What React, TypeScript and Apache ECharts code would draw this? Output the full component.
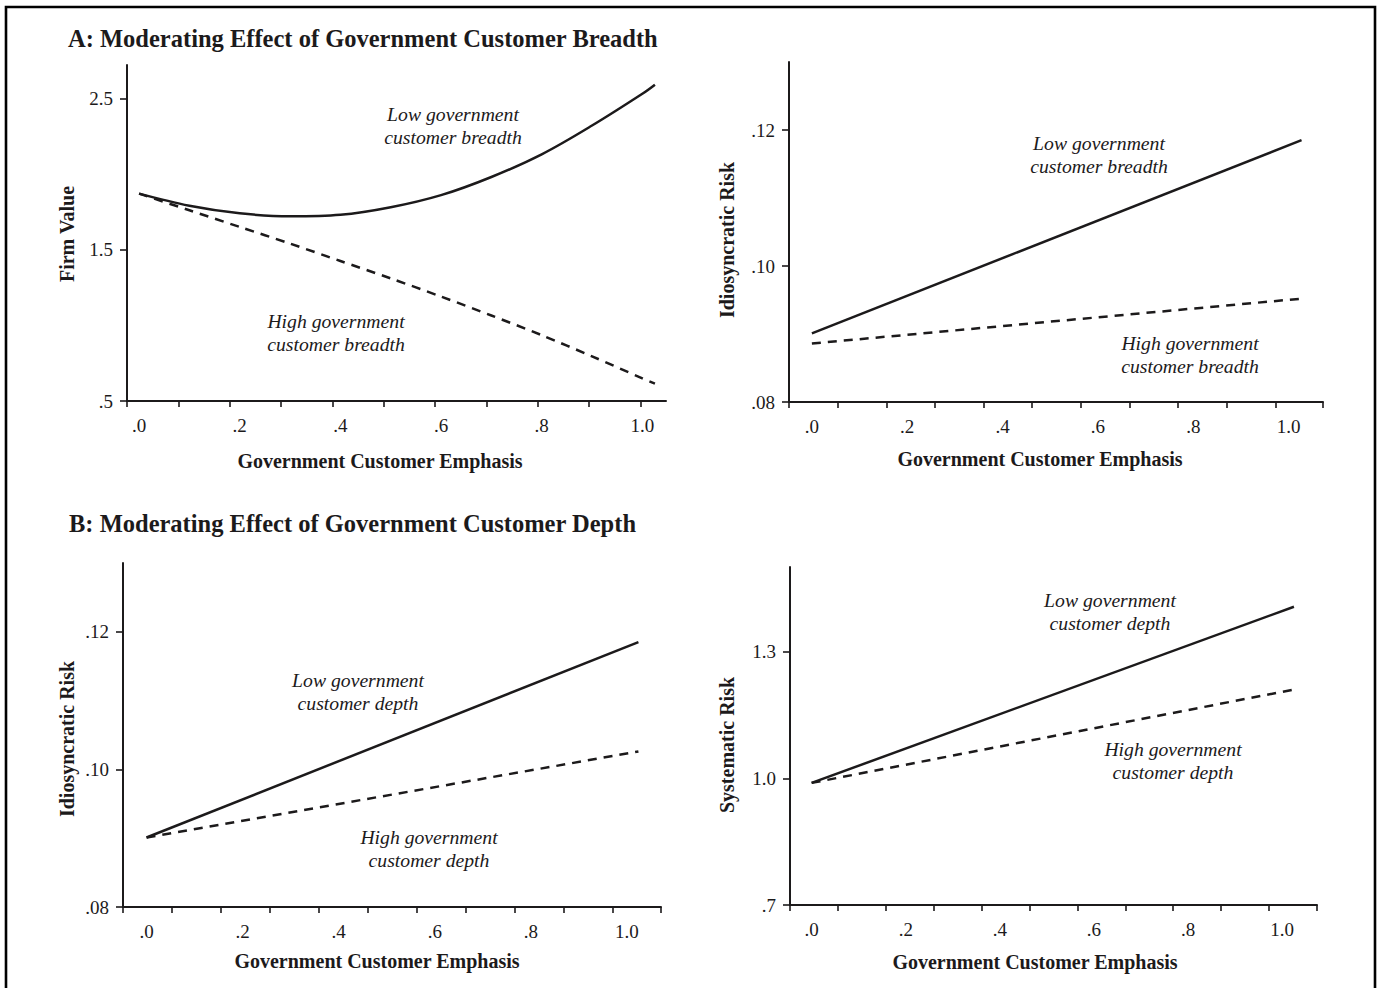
import React, { useEffect, useRef } from "react";
import * as echarts from "echarts";

// ---------- data ----------
const xLabelValues = [0, 0.2, 0.4, 0.6, 0.8, 1.0];
const xLabelTexts = [".0", ".2", ".4", ".6", ".8", "1.0"];

// Panel A: Firm Value (breadth)
const aX = [0, 0.1, 0.2, 0.3, 0.4, 0.5, 0.6, 0.7, 0.8, 0.9, 1.0, 1.025];
const aLow = [1.87, 1.79, 1.74, 1.72, 1.73, 1.78, 1.86, 1.98, 2.13, 2.32, 2.53, 2.59];
const aHigh = [1.87, 1.76, 1.65, 1.54, 1.425, 1.31, 1.19, 1.065, 0.935, 0.795, 0.65, 0.615];
const aYLabelValues = [0.5, 1.5, 2.5];
const aYLabelTexts = [".5", "1.5", "2.5"];
const aXTicks = [-0.024, 0.078, 0.18, 0.282, 0.384, 0.486, 0.588, 0.69, 0.792, 0.894, 0.996];

// Panel A2: Idiosyncratic Risk (breadth)
const a2X = [0, 1.027];
const a2Low = [0.0901, 0.1185];
const a2High = [0.0886, 0.0952];
const riskYLabelValues = [0.08, 0.1, 0.12];
const riskYLabelTexts = [".08", ".10", ".12"];
const a2XTicks = [-0.048, 0.054, 0.156, 0.258, 0.36, 0.462, 0.564, 0.666, 0.768, 0.87, 0.972, 1.072];

// Panel B1: Idiosyncratic Risk (depth)
const b1X = [0, 1.024];
const b1Low = [0.0901, 0.1185];
const b1High = [0.0901, 0.1026];
const b1XTicks = [-0.049, 0.053, 0.155, 0.257, 0.359, 0.461, 0.563, 0.665, 0.767, 0.869, 0.971, 1.071];

// Panel B2: Systematic Risk (depth)
const b2X = [0, 1.025];
const b2Low = [0.989, 1.406];
const b2High = [0.989, 1.21];
const b2YLabelValues = [0.7, 1.0, 1.3];
const b2YLabelTexts = [".7", "1.0", "1.3"];
const b2XTicks = [-0.046, 0.056, 0.158, 0.26, 0.361, 0.463, 0.565, 0.667, 0.768, 0.87, 0.972, 1.074];

// ---------- styles ----------
const INK = "#1c1a1b";
const SERIF = '"Liberation Serif", "Times New Roman", serif';

function lookup(values: number[], texts: string[]) {
  return (v: number) => {
    const i = values.findIndex((x) => Math.abs(x - v) < 1e-9);
    return i >= 0 ? texts[i] : "";
  };
}

const panels = [
  {
    grid: { left: 127, top: 65, width: 539, height: 336 },
    xMin: -0.024, xMax: 1.047, yMin: 0.5, yMax: 2.72,
    xTicks: aXTicks, yVals: aYLabelValues, yTexts: aYLabelTexts,
    x: aX, low: aLow, high: aHigh, smooth: true,
  },
  {
    grid: { left: 789, top: 62, width: 534, height: 340 },
    xMin: -0.048, xMax: 1.072, yMin: 0.08, yMax: 0.13,
    xTicks: a2XTicks, yVals: riskYLabelValues, yTexts: riskYLabelTexts,
    x: a2X, low: a2Low, high: a2High, smooth: false,
  },
  {
    grid: { left: 123, top: 563, width: 538, height: 344 },
    xMin: -0.049, xMax: 1.071, yMin: 0.08, yMax: 0.13,
    xTicks: b1XTicks, yVals: riskYLabelValues, yTexts: riskYLabelTexts,
    x: b1X, low: b1Low, high: b1High, smooth: false,
  },
  {
    grid: { left: 790, top: 567, width: 527, height: 338 },
    xMin: -0.046, xMax: 1.074, yMin: 0.7, yMax: 1.5,
    xTicks: b2XTicks, yVals: b2YLabelValues, yTexts: b2YLabelTexts,
    x: b2X, low: b2Low, high: b2High, smooth: false,
  },
];

function txt(text: string, x: number, y: number, opts: any = {}) {
  return {
    type: "text",
    x,
    y,
    rotation: opts.rotation || 0,
    silent: true,
    style: {
      text,
      fill: INK,
      fontFamily: SERIF,
      fontSize: opts.fontSize || 20,
      fontWeight: opts.fontWeight || "normal",
      fontStyle: opts.fontStyle || "normal",
      align: opts.align || "center",
      verticalAlign: "middle",
      textAlign: opts.align || "center",
      textVerticalAlign: "middle",
    },
  };
}

const annotations = [
  ["Low government", 453, 113.5], ["customer breadth", 453, 136.5],
  ["High government", 336, 321], ["customer breadth", 336, 344],
  ["Low government", 1099, 143], ["customer breadth", 1099, 166],
  ["High government", 1190, 342.5], ["customer breadth", 1190, 365.5],
  ["Low government", 358, 679.5], ["customer depth", 358, 702.5],
  ["High government", 429, 837], ["customer depth", 429, 860],
  ["Low government", 1110, 600], ["customer depth", 1110, 623],
  ["High government", 1173, 748.5], ["customer depth", 1173, 771.5],
] as const;

export default function App() {
  const ref = useRef<HTMLDivElement>(null);
  useEffect(() => {
    if (!ref.current) return;
    const chart = echarts.init(ref.current, null, { renderer: "svg" });

    const grids = panels.map((p) => ({ ...p.grid, containLabel: false }));
    const xAxes = panels.map((p, i) => ({
      type: "value",
      gridIndex: i,
      min: p.xMin,
      max: p.xMax,
      axisLine: { show: true, onZero: false, lineStyle: { color: INK, width: 2 } },
      axisTick: { show: true, customValues: p.xTicks, length: 6, lineStyle: { color: INK, width: 1.6 } },
      axisLabel: {
        customValues: xLabelValues,
        formatter: lookup(xLabelValues, xLabelTexts),
        margin: 15,
        color: INK,
        fontFamily: SERIF,
        fontSize: 19,
      },
      splitLine: { show: false },
    }));
    const yAxes = panels.map((p, i) => ({
      type: "value",
      gridIndex: i,
      min: p.yMin,
      max: p.yMax,
      axisLine: { show: true, onZero: false, lineStyle: { color: INK, width: 2 } },
      axisTick: { show: true, customValues: p.yVals, length: 7, lineStyle: { color: INK, width: 1.6 } },
      axisLabel: {
        customValues: p.yVals,
        formatter: lookup(p.yVals, p.yTexts),
        margin: 14,
        color: INK,
        fontFamily: SERIF,
        fontSize: 19,
      },
      splitLine: { show: false },
    }));
    const series: any[] = [];
    panels.forEach((p, i) => {
      series.push({
        type: "line",
        xAxisIndex: i,
        yAxisIndex: i,
        data: p.x.map((x, k) => [x, p.low[k]]),
        showSymbol: false,
        symbol: "none",
        smooth: p.smooth ? 0.35 : false,
        lineStyle: { color: INK, width: 2.5, type: "solid" },
        z: 3,
      });
      series.push({
        type: "line",
        xAxisIndex: i,
        yAxisIndex: i,
        data: p.x.map((x, k) => [x, p.high[k]]),
        showSymbol: false,
        symbol: "none",
        smooth: p.smooth ? 0.3 : false,
        lineStyle: { color: INK, width: 2.5, type: [9, 7] },
        z: 2,
      });
    });

    const graphics: any[] = [
      {
        type: "rect",
        silent: true,
        shape: { x: 6, y: 7, width: 1369, height: 1000 },
        style: { fill: "none", stroke: "#000", lineWidth: 2.6 },
      },
      txt("A: Moderating Effect of Government Customer Breadth", 68, 38, { fontSize: 24.5, fontWeight: "bold", align: "left" }),
      txt("B: Moderating Effect of Government Customer Depth", 69, 523, { fontSize: 24.5, fontWeight: "bold", align: "left" }),
      txt("Government Customer Emphasis", 380, 461, { fontWeight: "bold" }),
      txt("Government Customer Emphasis", 1040, 459, { fontWeight: "bold" }),
      txt("Government Customer Emphasis", 377, 961, { fontWeight: "bold" }),
      txt("Government Customer Emphasis", 1035, 962, { fontWeight: "bold" }),
      txt("Firm Value", 67, 234, { fontWeight: "bold", rotation: Math.PI / 2 }),
      txt("Idiosyncratic Risk", 727, 240, { fontWeight: "bold", rotation: Math.PI / 2 }),
      txt("Idiosyncratic Risk", 67, 739, { fontWeight: "bold", rotation: Math.PI / 2 }),
      txt("Systematic Risk", 727, 745, { fontWeight: "bold", rotation: Math.PI / 2 }),
      ...annotations.map(([t, x, y]) => txt(t, x, y, { fontStyle: "italic", fontSize: 19.7 })),
    ];

    chart.setOption({
      animation: false,
      backgroundColor: "#ffffff",
      grid: grids,
      xAxis: xAxes,
      yAxis: yAxes,
      series,
      graphic: graphics,
    });
    return () => chart.dispose();
  }, []);
  return (
    <div
      ref={ref}
      style={{ position: "fixed", left: 0, top: 0, width: 1378, height: 988, background: "#fff" }}
    />
  );
}
